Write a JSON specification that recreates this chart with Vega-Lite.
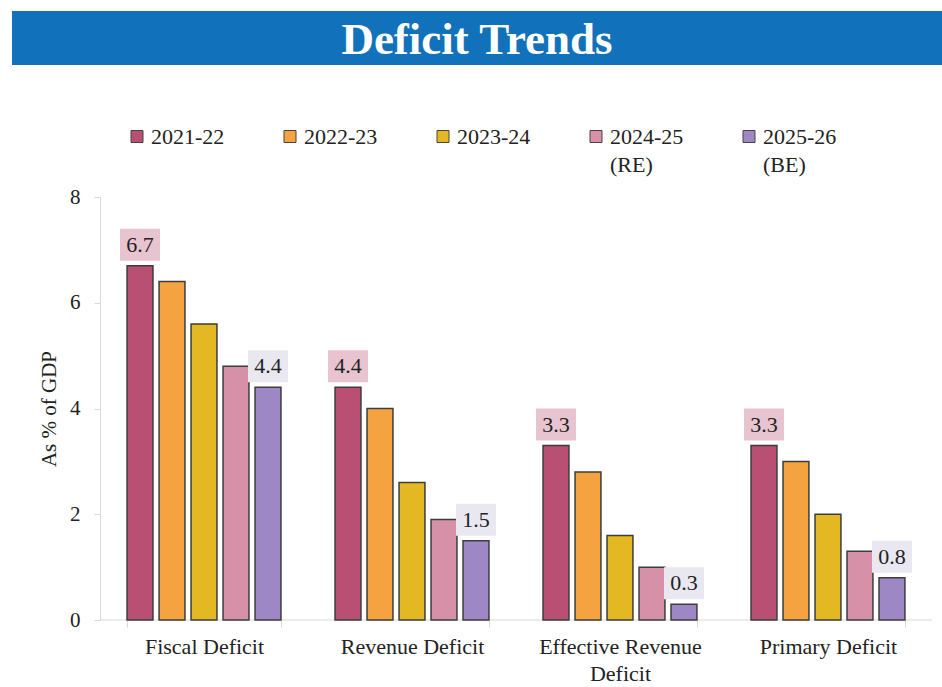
{
  "$schema": "https://vega.github.io/schema/vega-lite/v6.json",
  "background": "white",
  "padding": {"left": 12, "top": 11, "right": 0, "bottom": 0},
  "config": {
    "font": "Liberation Serif",
    "view": {"stroke": null},
    "axis": {"labelFont": "Liberation Serif", "titleFont": "Liberation Serif"},
    "legend": {"labelFont": "Liberation Serif", "titleFont": "Liberation Serif"},
    "text": {"font": "Liberation Serif"}
  },
  "spacing": 132,
  "bounds": "flush",
  "datasets": {
    "head": [{"t": "Deficit Trends"}],
    "main": [
      {"cat": "Fiscal Deficit", "year": "2021-22", "v": 6.7},
      {"cat": "Fiscal Deficit", "year": "2022-23", "v": 6.4},
      {"cat": "Fiscal Deficit", "year": "2023-24", "v": 5.6},
      {"cat": "Fiscal Deficit", "year": "2024-25", "v": 4.8},
      {"cat": "Fiscal Deficit", "year": "2025-26", "v": 4.4},
      {"cat": "Revenue Deficit", "year": "2021-22", "v": 4.4},
      {"cat": "Revenue Deficit", "year": "2022-23", "v": 4.0},
      {"cat": "Revenue Deficit", "year": "2023-24", "v": 2.6},
      {"cat": "Revenue Deficit", "year": "2024-25", "v": 1.9},
      {"cat": "Revenue Deficit", "year": "2025-26", "v": 1.5},
      {"cat": "Effective Revenue Deficit", "year": "2021-22", "v": 3.3},
      {"cat": "Effective Revenue Deficit", "year": "2022-23", "v": 2.8},
      {"cat": "Effective Revenue Deficit", "year": "2023-24", "v": 1.6},
      {"cat": "Effective Revenue Deficit", "year": "2024-25", "v": 1.0},
      {"cat": "Effective Revenue Deficit", "year": "2025-26", "v": 0.3},
      {"cat": "Primary Deficit", "year": "2021-22", "v": 3.3},
      {"cat": "Primary Deficit", "year": "2022-23", "v": 3.0},
      {"cat": "Primary Deficit", "year": "2023-24", "v": 2.0},
      {"cat": "Primary Deficit", "year": "2024-25", "v": 1.3},
      {"cat": "Primary Deficit", "year": "2025-26", "v": 0.8}
    ]
  },
  "vconcat": [
    {
      "width": 930,
      "height": 54,
      "view": {"fill": "#1271bb", "stroke": null},
      "data": {"name": "head"},
      "mark": {"type": "text", "fontSize": 45, "fontWeight": "bold", "color": "white", "font": "Liberation Serif", "baseline": "middle", "align": "center", "dy": 2},
      "encoding": {"text": {"field": "t"}}
    },
    {
      "width": 930,
      "height": 423,
      "data": {"name": "main"},
      "encoding": {
        "x": {
          "field": "cat", "type": "nominal",
          "sort": ["Fiscal Deficit", "Revenue Deficit", "Effective Revenue Deficit", "Primary Deficit"],
          "scale": {"paddingInner": 0.26, "paddingOuter": 0.3657, "align": 0.7563},
          "axis": {
            "title": null, "labelAngle": 0, "labelFontSize": 22, "labelColor": "#222",
            "labelFont": "Liberation Serif", "domain": false, "tickColor": "#d9d9d9",
            "tickBand": "extent", "tickSize": 7, "labelPadding": 9, "labelLineHeight": 27,
            "labelExpr": "datum.label == 'Effective Revenue Deficit' ? ['Effective Revenue', 'Deficit'] : datum.label"
          }
        },
        "y": {
          "field": "v", "type": "quantitative",
          "scale": {"domain": [0, 8], "nice": false},
          "axis": {
            "title": "As % of GDP", "titleFontSize": 21, "titleFontWeight": "normal", "titleColor": "#222",
            "titleFont": "Liberation Serif", "titleX": -45, "titleBaseline": "alphabetic", "titleAngle": -90,
            "offset": -88,
            "values": [0, 2, 4, 6, 8], "labelFontSize": 21, "labelColor": "#222", "labelPadding": 14,
            "labelFont": "Liberation Serif",
            "tickSize": 6, "grid": false, "domainColor": "#d9d9d9", "tickColor": "#d9d9d9"
          }
        }
      },
      "layer": [
        {
          "transform": [{"filter": "datum.year == '2021-22'"}],
          "mark": {"type": "tick", "orient": "horizontal", "size": 208, "thickness": 1.2, "color": "#d9d9d9", "opacity": 1},
          "encoding": {"y": {"datum": 0, "type": "quantitative"}}
        },
        {
          "mark": {"type": "bar", "stroke": "#3d3d3d", "strokeWidth": 1.5},
          "encoding": {
            "xOffset": {
              "field": "year", "type": "nominal",
              "sort": ["2021-22", "2022-23", "2023-24", "2024-25", "2025-26"],
              "scale": {"paddingInner": 0.19, "paddingOuter": 0}
            },
            "color": {
              "field": "year", "type": "nominal",
              "scale": {
                "domain": ["2021-22", "2022-23", "2023-24", "2024-25", "2025-26"],
                "range": ["#b94f72", "#f4a340", "#e4b823", "#d690a8", "#9d87c4"]
              },
              "legend": {
                "orient": "none", "legendX": 114, "legendY": 122, "direction": "horizontal",
                "columns": 5, "title": null,
                "symbolType": "M-1,-2.25L1,-2.25L1,-0.25L-1,-0.25Z", "symbolSize": 144,
                "symbolStrokeColor": "#444", "symbolStrokeWidth": 1, "symbolOpacity": 1,
                "labelFontSize": 22, "labelFont": "Liberation Serif", "labelColor": "#222",
                "labelBaseline": "alphabetic",
                "columnPadding": 54, "gridAlign": "all", "labelOffset": 3, "padding": 0,
                "labelExpr": "datum.label == '2024-25' ? ['2024-25', '(RE)'] : datum.label == '2025-26' ? ['2025-26', '(BE)'] : [datum.label, ' ']",
                "encode": {"labels": {"update": {"lineHeight": {"value": 28}}}}
              }
            }
          }
        },
        {
          "transform": [{"filter": "datum.year == '2021-22'"}],
          "mark": {"type": "point", "shape": "M-1,-1.85L1,-1.85L1,-0.25L-1,-0.25Z", "filled": true, "size": 1600, "opacity": 1, "fill": "#e8c3d0", "strokeWidth": 0},
          "encoding": {
            "xOffset": {"field": "year", "type": "nominal", "sort": ["2021-22", "2022-23", "2023-24", "2024-25", "2025-26"]}
          }
        },
        {
          "transform": [{"filter": "datum.year == '2025-26'"}],
          "mark": {"type": "point", "shape": "M-1,-1.85L1,-1.85L1,-0.25L-1,-0.25Z", "filled": true, "size": 1600, "opacity": 1, "fill": "#e9e7f0", "strokeWidth": 0},
          "encoding": {
            "xOffset": {"field": "year", "type": "nominal", "sort": ["2021-22", "2022-23", "2023-24", "2024-25", "2025-26"]}
          }
        },
        {
          "transform": [{"filter": "datum.year == '2021-22' || datum.year == '2025-26'"}],
          "mark": {"type": "text", "dy": -21, "fontSize": 22, "color": "#222", "baseline": "middle", "font": "Liberation Serif"},
          "encoding": {
            "xOffset": {"field": "year", "type": "nominal", "sort": ["2021-22", "2022-23", "2023-24", "2024-25", "2025-26"]},
            "text": {"field": "v", "type": "quantitative", "format": ".1f"}
          }
        }
      ]
    }
  ]
}
